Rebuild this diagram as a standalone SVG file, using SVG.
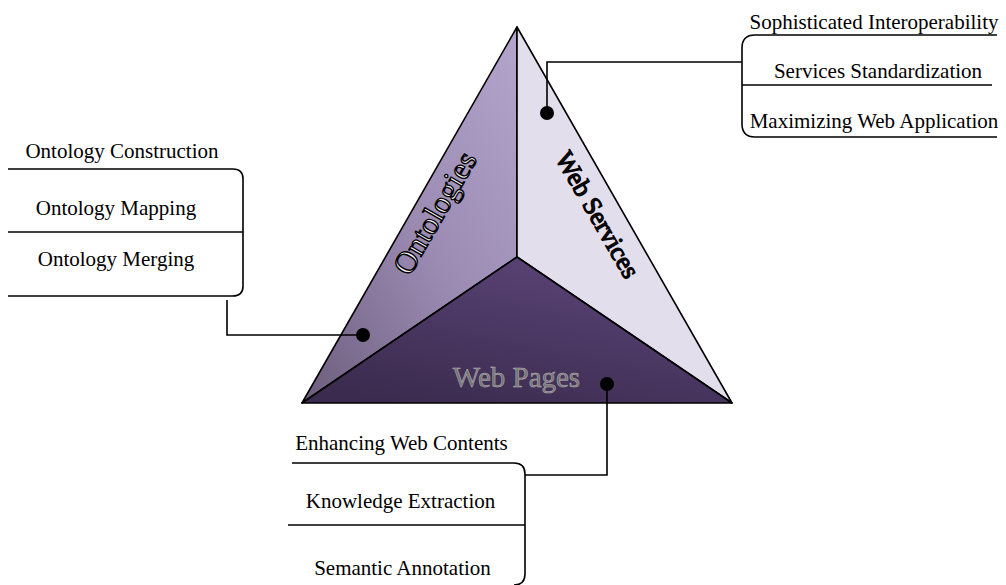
<svg xmlns="http://www.w3.org/2000/svg" width="1006" height="585" viewBox="0 0 1006 585">
<defs>
<linearGradient id="gLeft" x1="1" y1="0" x2="0" y2="1">
<stop offset="0" stop-color="#b4a5cc"/>
<stop offset="0.5" stop-color="#9b8bb3"/>
<stop offset="1" stop-color="#6c5c7c"/>
</linearGradient>
<linearGradient id="gBottom" x1="0.8" y1="0" x2="0.2" y2="1">
<stop offset="0" stop-color="#5c4579"/>
<stop offset="1" stop-color="#3b2b4e"/>
</linearGradient>
<style>
.face{stroke:#000;stroke-width:1.6;stroke-linejoin:round}
.ln{fill:none;stroke:#000;stroke-width:1.6}
.item{font-size:21px;fill:#000;text-anchor:middle}
.big{text-anchor:middle}
.dot{fill:#000}
</style>
</defs>
<rect width="1006" height="585" fill="#fff"/>

<g id="pyramid">
<g id="ontologies">
<polygon class="face" points="517,27 517,257 302,403" fill="url(#gLeft)"/>
<text class="big" font-family="Liberation Serif, Times New Roman, serif" font-size="31" transform="translate(435,213) rotate(-60)" y="10" fill="#f4f4f4" stroke="#000" stroke-width="1.3">Ontologies</text>
</g>
<g id="web-services">
<polygon class="face" points="517,27 732,403 517,257" fill="#e3deec"/>
<text class="big" font-family="Liberation Serif, Times New Roman, serif" font-size="26" transform="translate(597,215) rotate(60)" y="8" fill="#111" stroke="#000" stroke-width="1.2">Web Services</text>
</g>
<g id="web-pages">
<polygon class="face" points="517,257 732,403 302,403" fill="url(#gBottom)"/>
<text class="big" font-family="Liberation Serif, Times New Roman, serif" font-size="29" x="516.5" y="387" fill="#747474" stroke="#b8b8b8" stroke-width="0.5">Web Pages</text>
</g>
</g>

<g id="connectors">
<path class="ln" d="M547,113 V62 H742"/>
<path class="ln" d="M363,335 H227 V300"/>
<path class="ln" d="M607,384 V475 H525"/>
<circle class="dot" cx="547" cy="113" r="7"/>
<circle class="dot" cx="363" cy="335" r="7"/>
<circle class="dot" cx="607" cy="384" r="7"/>
</g>

<g id="ontology-list" font-family="Liberation Serif, Times New Roman, serif">
<path class="ln" d="M8,169 H233 Q243,169 243,179 V286 Q243,296 233,296 H8"/>
<path class="ln" d="M8,232 H243"/>
<text class="item" x="122" y="158">Ontology Construction</text>
<text class="item" x="116" y="215">Ontology Mapping</text>
<text class="item" x="116" y="266">Ontology Merging</text>
</g>

<g id="services-list" font-family="Liberation Serif, Times New Roman, serif">
<path class="ln" d="M997,35 H755 Q742,35 742,48 V124 Q742,137 755,137 H997"/>
<path class="ln" d="M742,85 H992"/>
<text class="item" x="874" y="29">Sophisticated Interoperability</text>
<text class="item" x="878" y="78">Services Standardization</text>
<text class="item" x="874" y="128">Maximizing Web Application</text>
</g>

<g id="pages-list" font-family="Liberation Serif, Times New Roman, serif">
<path class="ln" d="M292,463 H514 Q525,463 525,474 V574 Q525,585 514,585"/>
<path class="ln" d="M288,525 H525"/>
<text class="item" x="401.5" y="450">Enhancing Web Contents</text>
<text class="item" x="400.5" y="508">Knowledge Extraction</text>
<text class="item" x="402.5" y="575">Semantic Annotation</text>
</g>
</svg>
